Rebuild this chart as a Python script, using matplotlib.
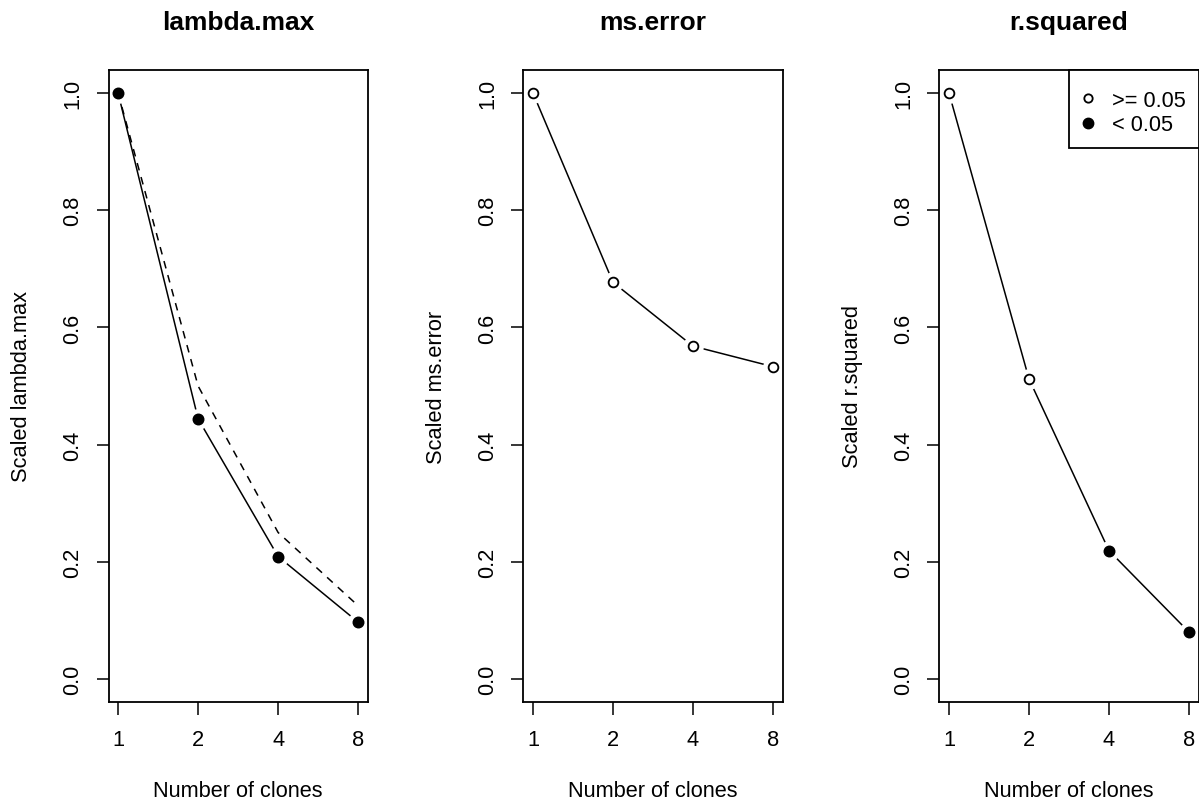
import numpy as np
import matplotlib
matplotlib.use("Agg")
import matplotlib.pyplot as plt
from matplotlib.lines import Line2D
from matplotlib.ticker import FixedLocator, FixedFormatter

plt.rcParams['font.family'] = ['Liberation Sans', 'DejaVu Sans']

# ---- data ----
clones = [1, 2, 4, 8]
clone_labels = ["1", "2", "4", "8"]
titles = ["lambda.max", "ms.error", "r.squared"]
ylabels = ["Scaled lambda.max", "Scaled ms.error", "Scaled r.squared"]
xlabel = "Number of clones"

lambda_max = [1.0, 0.444, 0.209, 0.097]
lambda_ref = [1.0, 0.5, 0.25, 0.125]       # dashed 1/k reference
ms_error = [1.0, 0.677, 0.568, 0.533]
r_squared = [1.0, 0.512, 0.219, 0.080]

# significance: True = p < 0.05 (filled), False = p >= 0.05 (open)
sig_lambda = [True, True, True, True]
sig_ms = [False, False, False, False]
sig_r2 = [False, False, True, True]

yticks = [0.0, 0.2, 0.4, 0.6, 0.8, 1.0]
ytick_labels = ["0.0", "0.2", "0.4", "0.6", "0.8", "1.0"]
legend_labels = [">= 0.05", "< 0.05"]

# ---- layout (pixels) ----
W, H = 1199, 804
fig = plt.figure(figsize=(W / 100, H / 100), dpi=100)
ax_top, ax_bot = 70.6, 703.4
ax_w = 259.2
ax_h = ax_bot - ax_top
lefts = [108.5, 523.4, 939.4]

FS = 15.7
LW = 1.1
MS = 7.5

series = [lambda_max, ms_error, r_squared]
sigs = [sig_lambda, sig_ms, sig_r2]

lx = np.log2(clones)
xr = lx.max() - lx.min()
xlim = (2 ** (lx.min() - 0.04 * xr), 2 ** (lx.max() + 0.04 * xr))
ylim = (0 - 0.04, 1 + 0.04)

for i in range(3):
    ax = fig.add_axes([lefts[i] / W, (H - ax_bot) / H, ax_w / W, ax_h / H])
    ax.set_xscale('log', base=2)
    ax.set_xlim(*xlim)
    ax.set_ylim(*ylim)
    y = series[i]
    s = sigs[i]
    # line
    ax.plot(clones, y, color='black', lw=LW, zorder=1, solid_capstyle='butt')
    if i == 0:
        ax.plot(clones, lambda_ref, color='black', lw=LW, linestyle=(0, (5, 4.5)), zorder=1)
    # gaps (type="b")
    ax.plot(clones, y, linestyle='none', marker='o', markersize=15, markerfacecolor='white',
            markeredgecolor='none', zorder=1.5)
    for xv, yv, sv in zip(clones, y, s):
        if sv:
            ax.plot([xv], [yv], linestyle='none', marker='o', markersize=MS, markerfacecolor='black',
                    markeredgecolor='black', markeredgewidth=LW, zorder=4, clip_on=False)
        else:
            ax.plot([xv], [yv], linestyle='none', marker='o', markersize=MS - 0.5, markerfacecolor='white',
                    markeredgecolor='black', markeredgewidth=LW * 1.2, zorder=4, clip_on=False)

    ax.xaxis.set_major_locator(FixedLocator(clones))
    ax.xaxis.set_major_formatter(FixedFormatter(clone_labels))
    ax.xaxis.set_minor_locator(FixedLocator([]))
    ax.yaxis.set_major_locator(FixedLocator(yticks))
    ax.yaxis.set_major_formatter(FixedFormatter(ytick_labels))
    ax.tick_params(axis='both', direction='out', length=9, width=LW, labelsize=FS, color='black')
    ax.tick_params(axis='x', pad=10)
    ax.tick_params(axis='y', pad=9)
    for lab in ax.get_yticklabels():
        lab.set_rotation(90)
        lab.set_va('center')
    for sp in ax.spines.values():
        sp.set_linewidth(1.3)
        sp.set_color('black')
        sp.set_zorder(2.5)

    ax.set_title(titles[i], fontsize=19, fontweight='bold', pad=29)
    ax.set_xlabel(xlabel, fontsize=FS)
    ax.set_ylabel(ylabels[i], fontsize=FS)
    ax.xaxis.set_label_coords(0.5, (ax_bot - 781) / ax_h)
    ax.yaxis.set_label_coords(-76.0 / ax_w, 0.5)

    if i == 2:
        handles = [
            Line2D([], [], linestyle='none', marker='o', markersize=MS - 1.5, markerfacecolor='white',
                   markeredgecolor='black', markeredgewidth=LW * 1.2),
            Line2D([], [], linestyle='none', marker='o', markersize=MS, markerfacecolor='black',
                   markeredgecolor='black'),
        ]
        leg = ax.legend(handles, legend_labels, loc='upper right', bbox_to_anchor=(1.0, 1.0),
                        borderaxespad=0, fontsize=FS, frameon=True, fancybox=False,
                        borderpad=0.6, handlelength=0.6, handletextpad=0.78, labelspacing=0.15,
                        title=" ", title_fontsize=2.5)
        leg.set_zorder(5)
        fr = leg.get_frame()
        fr.set_edgecolor('black')
        fr.set_linewidth(1.3)
        fr.set_facecolor('white')
        fr.set_alpha(1)

fig.savefig("out.png", dpi=100)
